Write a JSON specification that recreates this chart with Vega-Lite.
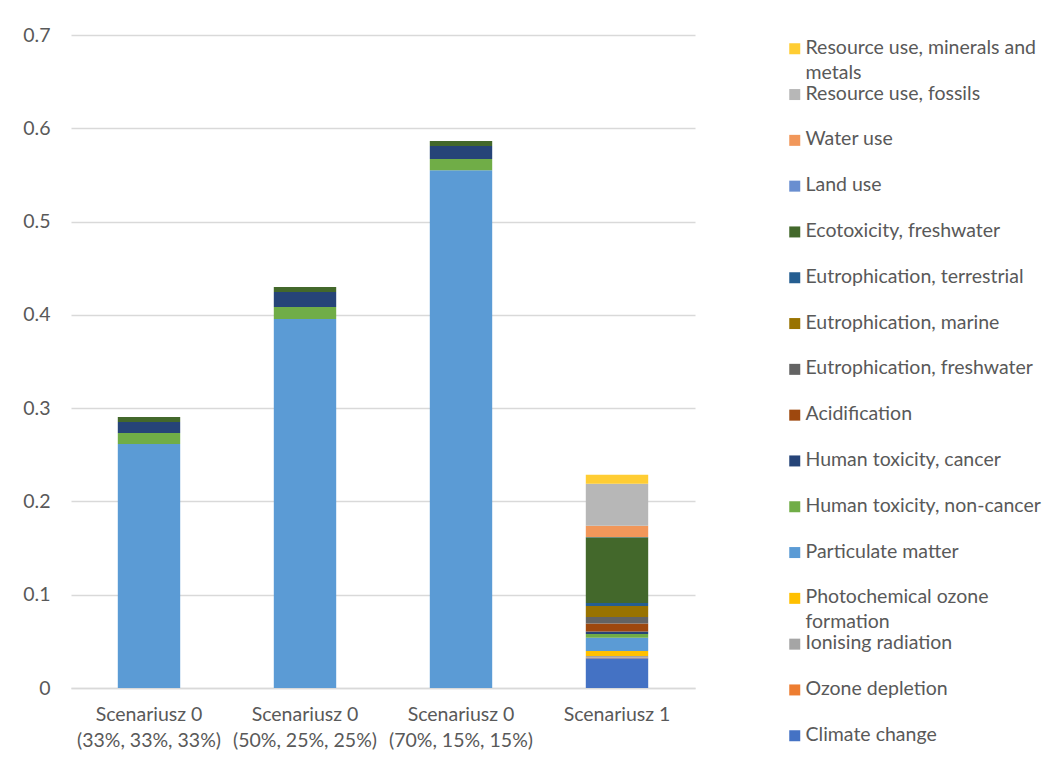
{
  "$schema": "https://vega.github.io/schema/vega-lite/v6.json",
  "width": 624,
  "height": 653,
  "autosize": "none",
  "padding": {"left": 71, "top": 35, "right": 361, "bottom": 77},
  "background": "white",
  "config": {
    "font": "Lato",
    "view": {"stroke": null},
    "axis": {"labelColor": "#595959", "labelFontSize": 19.5, "labelFont": "Lato"}
  },
  "data": {
    "values": [
      {"scenario": "Scenariusz 0 (33%, 33%, 33%)", "impact": "Particulate matter", "value": 0.2615},
      {"scenario": "Scenariusz 0 (33%, 33%, 33%)", "impact": "Human toxicity, non-cancer", "value": 0.0118},
      {"scenario": "Scenariusz 0 (33%, 33%, 33%)", "impact": "Human toxicity, cancer", "value": 0.0118},
      {"scenario": "Scenariusz 0 (33%, 33%, 33%)", "impact": "Ecotoxicity, freshwater", "value": 0.0054},
      {"scenario": "Scenariusz 0 (50%, 25%, 25%)", "impact": "Particulate matter", "value": 0.3955},
      {"scenario": "Scenariusz 0 (50%, 25%, 25%)", "impact": "Human toxicity, non-cancer", "value": 0.0129},
      {"scenario": "Scenariusz 0 (50%, 25%, 25%)", "impact": "Human toxicity, cancer", "value": 0.016},
      {"scenario": "Scenariusz 0 (50%, 25%, 25%)", "impact": "Ecotoxicity, freshwater", "value": 0.0054},
      {"scenario": "Scenariusz 0 (70%, 15%, 15%)", "impact": "Particulate matter", "value": 0.5549},
      {"scenario": "Scenariusz 0 (70%, 15%, 15%)", "impact": "Human toxicity, non-cancer", "value": 0.0121},
      {"scenario": "Scenariusz 0 (70%, 15%, 15%)", "impact": "Human toxicity, cancer", "value": 0.0139},
      {"scenario": "Scenariusz 0 (70%, 15%, 15%)", "impact": "Ecotoxicity, freshwater", "value": 0.0054},
      {"scenario": "Scenariusz 1", "impact": "Climate change", "value": 0.032},
      {"scenario": "Scenariusz 1", "impact": "Ozone depletion", "value": 0.0003},
      {"scenario": "Scenariusz 1", "impact": "Ionising radiation", "value": 0.002},
      {"scenario": "Scenariusz 1", "impact": "Photochemical ozone formation", "value": 0.0054},
      {"scenario": "Scenariusz 1", "impact": "Particulate matter", "value": 0.0143},
      {"scenario": "Scenariusz 1", "impact": "Human toxicity, non-cancer", "value": 0.004},
      {"scenario": "Scenariusz 1", "impact": "Human toxicity, cancer", "value": 0.0025},
      {"scenario": "Scenariusz 1", "impact": "Acidification", "value": 0.0086},
      {"scenario": "Scenariusz 1", "impact": "Eutrophication, freshwater", "value": 0.0071},
      {"scenario": "Scenariusz 1", "impact": "Eutrophication, marine", "value": 0.0118},
      {"scenario": "Scenariusz 1", "impact": "Eutrophication, terrestrial", "value": 0.0032},
      {"scenario": "Scenariusz 1", "impact": "Ecotoxicity, freshwater", "value": 0.0704},
      {"scenario": "Scenariusz 1", "impact": "Land use", "value": 0.0002},
      {"scenario": "Scenariusz 1", "impact": "Water use", "value": 0.0121},
      {"scenario": "Scenariusz 1", "impact": "Resource use, fossils", "value": 0.045},
      {"scenario": "Scenariusz 1", "impact": "Resource use, minerals and metals", "value": 0.0096}
    ]
  },
  "transform": [
    {
      "calculate": "indexof(['Climate change', 'Ozone depletion', 'Ionising radiation', 'Photochemical ozone formation', 'Particulate matter', 'Human toxicity, non-cancer', 'Human toxicity, cancer', 'Acidification', 'Eutrophication, freshwater', 'Eutrophication, marine', 'Eutrophication, terrestrial', 'Ecotoxicity, freshwater', 'Land use', 'Water use', 'Resource use, fossils', 'Resource use, minerals and metals'], datum.impact)",
      "as": "stackRank"
    }
  ],
  "mark": {"type": "bar"},
  "encoding": {
    "x": {
      "field": "scenario",
      "type": "nominal",
      "sort": null,
      "title": null,
      "scale": {"paddingInner": 0.6, "paddingOuter": 0.3},
      "axis": {
        "labelAngle": 0,
        "labelPadding": 17,
        "labelLineHeight": 26,
        "labelBaseline": "top",
        "ticks": false,
        "domainColor": "#D9D9D9",
        "domainWidth": 1.3,
        "labelExpr": "indexof(datum.value, '(') > 0 ? [slice(datum.value, 0, indexof(datum.value, '(') - 1), slice(datum.value, indexof(datum.value, '('))] : datum.value"
      }
    },
    "y": {
      "field": "value",
      "type": "quantitative",
      "stack": "zero",
      "title": null,
      "scale": {"domain": [0, 0.7]},
      "axis": {
        "values": [0, 0.1, 0.2, 0.3, 0.4, 0.5, 0.6, 0.7],
        "labelExpr": "datum.value == 0 ? '0' : format(datum.value, '.1f')",
        "domain": false,
        "ticks": false,
        "labelPadding": 21,
        "gridColor": "#D9D9D9",
        "gridWidth": 1.3
      }
    },
    "order": {"field": "stackRank", "type": "quantitative", "sort": "ascending"},
    "color": {
      "field": "impact",
      "type": "nominal",
      "title": null,
      "scale": {
        "domain": ["Resource use, minerals and metals", "Resource use, fossils", "Water use", "Land use", "Ecotoxicity, freshwater", "Eutrophication, terrestrial", "Eutrophication, marine", "Eutrophication, freshwater", "Acidification", "Human toxicity, cancer", "Human toxicity, non-cancer", "Particulate matter", "Photochemical ozone formation", "Ionising radiation", "Ozone depletion", "Climate change"],
        "range": ["#FFCD33", "#B7B7B7", "#F1975A", "#698ED0", "#43682B", "#255E91", "#997300", "#636363", "#9E480E", "#264478", "#70AD47", "#5B9BD5", "#FFC000", "#A5A5A5", "#ED7D31", "#4472C4"]
      },
      "legend": {
        "orient": "none",
        "legendX": 714,
        "legendY": 4,
        "symbolType": "square",
        "symbolSize": 121,
        "symbolStrokeWidth": 0,
        "labelFontSize": 19.5,
        "labelFont": "Lato",
        "labelColor": "#595959",
        "labelLimit": 300,
        "labelOffset": 1,
        "labelBaseline": "top",
        "rowPadding": -0.2,
        "labelExpr": "datum.value == 'Resource use, minerals and metals' ? ['Resource use, minerals and', 'metals'] : datum.value == 'Photochemical ozone formation' ? ['Photochemical ozone', 'formation'] : [datum.value, '']",
        "encode": {"labels": {"update": {"dy": {"value": -10}, "lineHeight": {"value": 25}}}}
      }
    }
  }
}
